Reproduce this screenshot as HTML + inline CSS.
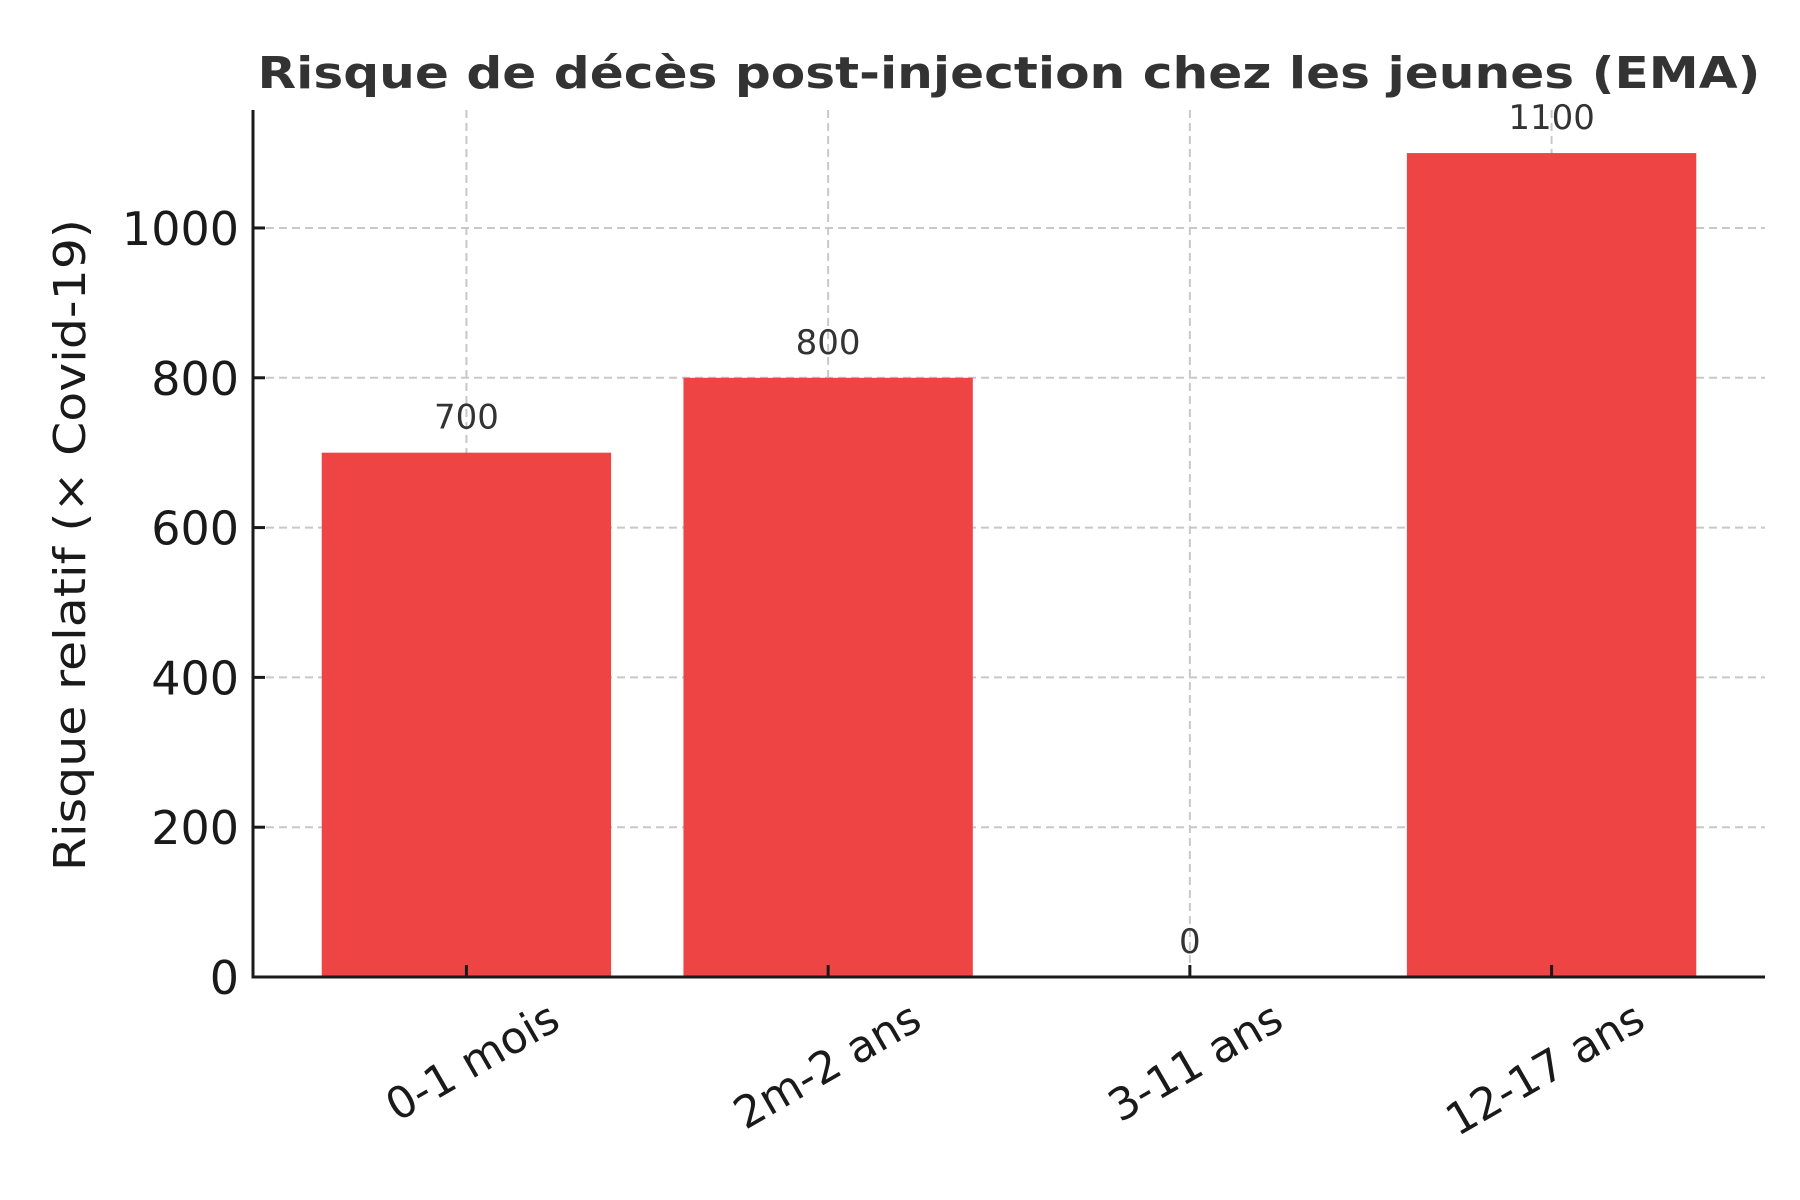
<!DOCTYPE html>
<html><head><meta charset="utf-8"><style>
html,body{margin:0;padding:0;background:#fff}
svg{display:block}
text{font-family:"DejaVu Sans","Liberation Sans",sans-serif}
</style></head><body>
<svg id="chart" width="1800" height="1200" viewBox="0 0 1800 1200">
<g id="grid"></g>
<g id="bars"></g>
<g id="axes"></g>
<text x="1009" y="88" text-anchor="middle" font-size="44" font-weight="bold" fill="#333" textLength="1503" lengthAdjust="spacingAndGlyphs">Risque de décès post-injection chez les jeunes (EMA)</text>
<text transform="translate(85,545) rotate(-90)" text-anchor="middle" font-size="44" fill="#1a1a1a" textLength="652" lengthAdjust="spacingAndGlyphs">Risque relatif (× Covid-19)</text>
</svg>
<script>
const categories = ["0-1 mois", "2m-2 ans", "3-11 ans", "12-17 ans"];
const values = [700, 800, 0, 1100];
const yTicks = [0, 200, 400, 600, 800, 1000];

const NS = "http://www.w3.org/2000/svg";
const L = 253, R = 1765, Y0 = 977, YT = 110;
const xMin = -0.59, xMax = 3.59, yMax = 1157.5;
const sx = v => L + (v - xMin) / (xMax - xMin) * (R - L);
const sy = v => Y0 - v / yMax * (Y0 - YT);
function mk(tag, attrs, parent, txt) {
  const e = document.createElementNS(NS, tag);
  for (const k in attrs) e.setAttribute(k, attrs[k]);
  if (txt !== undefined) e.textContent = txt;
  parent.appendChild(e);
  return e;
}
const grid = document.getElementById('grid');
const bars = document.getElementById('bars');
const axes = document.getElementById('axes');

yTicks.forEach(t => {
  const y = sy(t);
  if (t > 0) {
    const g = mk('line', {x1: L, x2: R, y1: y, y2: y, stroke: '#c8c8c8', 'stroke-width': 2, 'stroke-dasharray': '8,5'}, grid);
    
    
  }
  const tk = mk('line', {x1: L, x2: L + 12, y1: y, y2: y, stroke: '#1a1a1a', 'stroke-width': 3}, axes);
  
  
  const lb = mk('text', {x: L - 14, y: y + 17, 'text-anchor': 'end', 'font-size': 46, fill: '#1a1a1a'}, axes, String(t));
  
  
});

categories.forEach((c, i) => {
  const x = sx(i);
  const g = mk('line', {x1: x, x2: x, y1: YT, y2: Y0, stroke: '#c8c8c8', 'stroke-width': 2, 'stroke-dasharray': '8,5'}, grid);
  
  
  const w = (sx(0.4) - sx(-0.4));
  const b = mk('rect', {x: x - w / 2, y: sy(values[i]), width: w, height: Y0 - sy(values[i]), fill: '#EF4444'}, bars);
  
  
  const vl = mk('text', {x: x, y: sy(values[i]) - 24, 'text-anchor': 'middle', 'font-size': 34, fill: '#333'}, bars, String(values[i]));
  
  
  const tk = mk('line', {x1: x, x2: x, y1: Y0 - 12, y2: Y0, stroke: '#1a1a1a', 'stroke-width': 3}, axes);
  
  
  const xl = mk('text', {transform: 'translate(' + (x + 96) + ',1027) rotate(-30)', 'text-anchor': 'end', 'font-size': 44, fill: '#1a1a1a'}, axes, c);
  
  
});

const ls = mk('line', {x1: L, x2: L, y1: YT, y2: Y0 + 1.5, stroke: '#1a1a1a', 'stroke-width': 3}, axes);


const bs = mk('line', {x1: L - 1.5, x2: R, y1: Y0, y2: Y0, stroke: '#1a1a1a', 'stroke-width': 3}, axes);


</script>
</body></html>
